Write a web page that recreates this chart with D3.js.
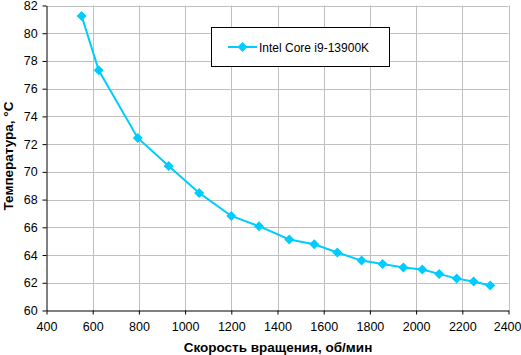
<!DOCTYPE html>
<html><head><meta charset="utf-8">
<script src="https://cdn.jsdelivr.net/npm/d3@7"></script>
<style>body{margin:0;background:#fff;} svg{display:block;font-family:"Liberation Sans",Arial,sans-serif;}</style>
</head><body>
<svg id="c" width="521" height="355"></svg>
<script>
const seriesName = "Intel Core i9-13900K";
const rpm = [552, 626, 795, 929, 1061, 1200, 1320, 1451, 1559, 1659, 1764, 1855, 1945, 2027, 2100, 2176, 2249, 2321];
const temp = [81.25, 77.33, 72.45, 70.43, 68.48, 66.82, 66.08, 65.12, 64.78, 64.18, 63.6, 63.36, 63.1, 62.95, 62.64, 62.3, 62.09, 61.8];
const xTicks = [400, 600, 800, 1000, 1200, 1400, 1600, 1800, 2000, 2200, 2400];
const yTicks = [60, 62, 64, 66, 68, 70, 72, 74, 76, 78, 80, 82];
const xTitle = "Скорость вращения, об/мин";
const yTitle = "Температура, °C";

const svg = d3.select("#c");
const L = 46.5, R = 508.5, T = 5.5, B = 310.5;
const x = d3.scaleLinear().domain([400, 2400]).range([L, R]);
const y = d3.scaleLinear().domain([60, 82]).range([B, T]);
const color = "#00CCFF";

// grid
svg.append("g").selectAll("line").data(xTicks.slice(1)).join("line")
  .attr("x1", d => Math.round(x(d)) + 0.5).attr("x2", d => Math.round(x(d)) + 0.5)
  .attr("y1", T).attr("y2", B).attr("stroke", "#c0c0c0");
svg.append("g").selectAll("line").data(yTicks.slice(1)).join("line")
  .attr("y1", d => Math.round(y(d)) + 0.5).attr("y2", d => Math.round(y(d)) + 0.5)
  .attr("x1", L).attr("x2", R).attr("stroke", "#c0c0c0");

// axes
const xa = svg.append("g").attr("transform", `translate(0,${B})`)
  .call(d3.axisBottom(x).tickValues(xTicks).tickSize(4).tickSizeOuter(0).tickFormat(d3.format("d")));
const ya = svg.append("g").attr("transform", `translate(${L},0)`)
  .call(d3.axisLeft(y).tickValues(yTicks).tickSize(4).tickSizeOuter(0).tickFormat(d3.format("d")));
[xa, ya].forEach(a => {
  a.select(".domain").attr("stroke", "#000");
  a.selectAll(".tick line").attr("stroke", "#000");
  a.selectAll("text").attr("font-size", 12.5).attr("font-family", "Liberation Sans, Arial, sans-serif").attr("fill", "#000");
});
xa.selectAll("text").attr("dy", "1.05em");
xa.selectAll(".tick").filter(d => d === 2400).select("text").attr("text-anchor", "end").attr("x", 12.5);
ya.selectAll("text").attr("dx", "-0.15em");

// line and markers
const line = d3.line().x((d, i) => x(rpm[i])).y(d => y(d));
svg.append("path").datum(temp).attr("d", line).attr("fill", "none")
  .attr("stroke", color).attr("stroke-width", 2);
svg.append("g").selectAll("path").data(temp).join("path")
  .attr("transform", (d, i) => `translate(${x(rpm[i])},${y(d)}) rotate(45)`)
  .attr("d", d3.symbol().type(d3.symbolSquare).size(50)).attr("fill", color);

// legend
svg.append("rect").attr("x", 211.5).attr("y", 27.5).attr("width", 178).attr("height", 39)
  .attr("fill", "#fff").attr("stroke", "#000");
svg.append("line").attr("x1", 228).attr("x2", 257).attr("y1", 47).attr("y2", 47)
  .attr("stroke", color).attr("stroke-width", 2);
svg.append("path").attr("transform", "translate(242.5,47) rotate(45)")
  .attr("d", d3.symbol().type(d3.symbolSquare).size(50)).attr("fill", color);
svg.append("text").attr("x", 259).attr("y", 51.5).attr("font-size", 12).text(seriesName);

// titles
svg.append("text").attr("x", 278).attr("y", 352).attr("text-anchor", "middle")
  .attr("font-size", 13.5).attr("font-weight", "bold").text(xTitle);
svg.append("text").attr("transform", `translate(13,156) rotate(-90)`)
  .attr("text-anchor", "middle").attr("font-size", 13.5).attr("font-weight", "bold").text(yTitle);
</script>
</body></html>
